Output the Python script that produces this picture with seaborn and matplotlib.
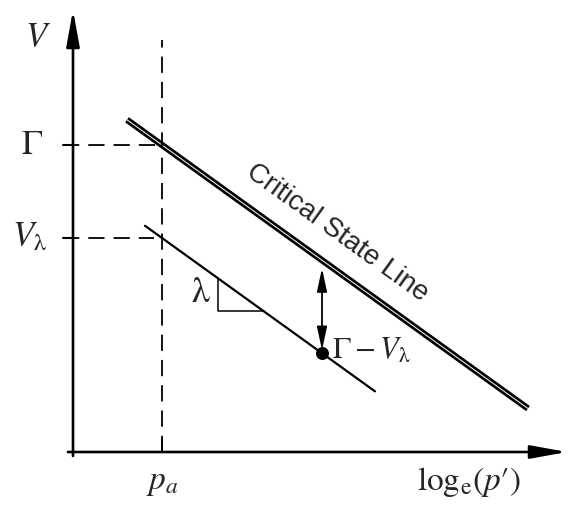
import matplotlib
matplotlib.use("Agg")
import matplotlib.pyplot as plt
import numpy as np
import pandas as pd
import seaborn as sns

# Schematic quantities (x = log_e p', y = specific volume V), origin at the axes corner
gamma = 307.0          # V on the critical state line at p_a
v_lambda = 214.0       # V on the lower line at p_a
p_a = 89.0             # reference pressure position on the log axis
lam = 0.72             # slope lambda shared by both lines
csl_x = [54.0, 455.0]  # extent of the critical state line
ncl_x = [72.0, 302.0]  # extent of the parallel line through V_lambda
tri_x = [145.0, 191.0] # slope triangle run
pt_x = 249.0           # location of the marked point
axis_len_x = 494.0
axis_len_y = 442.0

x_label = r"$\mathrm{log}_{\mathrm{e}}(p{\prime})$"
y_label = r"$V$"
tick_gamma = r"$\Gamma$"
tick_vl = r"$V_{\mathrm{\lambda}}$"
tick_pa = r"$p_a$"
csl_text = "Critical State Line"
diff_text = r"$\Gamma - V_{\mathrm{\lambda}}$"
slope_text = r"$\mathrm{\lambda}$"


def csl(x):
    return gamma - lam * (np.asarray(x) - p_a)


def ncl(x):
    return v_lambda - lam * (np.asarray(x) - p_a)


sns.set_theme(style="white")
plt.rcParams["mathtext.fontset"] = "stix"
plt.rcParams["font.family"] = ["Liberation Serif", "DejaVu Sans"]

fig = plt.figure(figsize=(5.72, 5.05), dpi=100)
ax = fig.add_axes([0, 0, 1, 1])
ax.set_xlim(-73, 499)
ax.set_ylim(-53, 452)
ax.axis("off")

csl_df = pd.DataFrame({"x": csl_x, "V": csl(csl_x)})
ncl_df = pd.DataFrame({"x": ncl_x, "V": ncl(ncl_x)})

# critical state line: thick black with thin white core
sns.lineplot(data=csl_df, x="x", y="V", ax=ax, color="black", lw=4.6,
             solid_capstyle="butt", legend=False)
sns.lineplot(data=csl_df, x="x", y="V", ax=ax, color="white", lw=0.7,
             solid_capstyle="butt", legend=False)
sns.lineplot(data=ncl_df, x="x", y="V", ax=ax, color="black", lw=1.6,
             legend=False)

# slope triangle
tx0, tx1 = tri_x
ax.plot([tx0, tx0, tx1], [ncl(tx0), ncl(tx1), ncl(tx1)], color="black", lw=1.1)
ax.text(tx0 - 17, (ncl(tx0) + ncl(tx1)) / 2 + 1, slope_text, fontsize=26,
        ha="center", va="center")

# reference dashed lines
dash = dict(color="black", lw=1.3, dashes=(9, 5))
ax.plot([-10, p_a], [gamma, gamma], **dash)
ax.plot([-10, p_a - 8], [v_lambda, v_lambda], **dash)
ax.plot([p_a, p_a], [0, 412], **dash)
ax.plot([p_a, p_a], [0, 12], color="black", lw=1.3)
ax.plot([-10, 0], [gamma, gamma], color="black", lw=1.5)
ax.plot([-10, 0], [v_lambda, v_lambda], color="black", lw=1.5)

# axes with arrowheads
ax.annotate("", xy=(0, axis_len_y), xytext=(0, -4),
            arrowprops=dict(arrowstyle="-|>,head_length=2.2,head_width=0.4",
                            mutation_scale=10, lw=1.9, color="black",
                            shrinkA=0, shrinkB=0))
ax.annotate("", xy=(axis_len_x, 0), xytext=(-5, 0),
            arrowprops=dict(arrowstyle="-|>,head_length=2.2,head_width=0.4",
                            mutation_scale=10, lw=1.9, color="black",
                            shrinkA=0, shrinkB=0))

# marked point and double arrow to the critical state line
pt_v = float(ncl(pt_x))
ax.scatter([pt_x], [pt_v], s=70, color="black", zorder=5)
ax.annotate("", xy=(pt_x, float(csl(pt_x)) - 8), xytext=(pt_x, pt_v + 3),
            arrowprops=dict(arrowstyle="<|-|>,head_length=1.4,head_width=0.3",
                            mutation_scale=10, lw=1.3, color="black",
                            shrinkA=0, shrinkB=0))
ax.text(pt_x + 10, pt_v + 2, diff_text, fontsize=22, ha="left", va="center")

# labels
ax.text(-35, 414, y_label, fontsize=25, ha="center", va="center")
ax.text(-30, gamma, tick_gamma, fontsize=25, ha="right", va="center")
ax.text(-26, v_lambda, tick_vl, fontsize=25, ha="right", va="center")
ax.text(p_a, -31, tick_pa, fontsize=24, ha="center", va="center")
ax.text(396, -30, x_label, fontsize=24, ha="center", va="center")

angle = np.degrees(np.arctan(lam))
ax.text(264, float(csl(264)) + 38, csl_text, fontsize=20,
        family=["Liberation Sans", "DejaVu Sans"], rotation=-angle,
        rotation_mode="anchor", ha="center", va="center")

fig.savefig("out.png", dpi=100, facecolor="white")
